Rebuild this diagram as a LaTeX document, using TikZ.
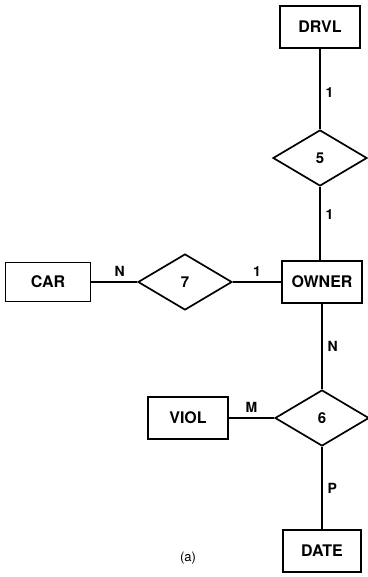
\documentclass[tikz,border=0pt]{standalone}
\usepackage{fontspec}
\setmainfont{TeX Gyre Heros}
\usetikzlibrary{shapes.geometric}

\tikzset{%
  entity/.style={
    rectangle,
    draw,
    line width=1.7pt,
    minimum width=80pt,
    minimum height=42pt,
    font=\fontsize{16}{18}\selectfont\bfseries
  },
  relation/.style={
    diamond,
    draw,
    line width=1.7pt,
    aspect=1.7,
    minimum width=94pt,
    minimum height=56pt,
    inner sep=0pt,
    font=\fontsize{15}{17}\selectfont\bfseries
  },
  card/.style={
    font=\fontsize{14}{16}\selectfont\bfseries,
    inner sep=5pt
  },
  link/.style={
    line width=1.2pt
  },
}

\begin{document}
\begin{tikzpicture}[x=1pt,y=-1pt]
  \useasboundingbox (0,0) rectangle (367,577);
  \node [entity] (DRVL) at (320,27) {DRVL};
  \node [relation] (R5) at (320,158) {5};
  \node [entity] (OWNER) at (322,282) {OWNER};
  \node [entity, minimum width=85pt, minimum height=39pt] (CAR) at (48,282) {CAR};
  \node [relation] (R7) at (185,282) {7};
  \node [relation] (R6) at (322,418) {6};
  \node [entity] (VIOL) at (188,418) {VIOL};
  \node [entity, minimum width=78pt] (DATE) at (322,551) {DATE};
  \node [font=\fontsize{13}{15}\selectfont] (CAPTION) at (188,558) {(a)};
\draw [link] (DRVL) -- node[card, right, pos=0.55] {1} (R5);
\draw [link] (R5.south) -- node[card, right, pos=0.38] {1} (OWNER.north -| R5.south);
\draw [link] (CAR) -- node[card, above, pos=0.62] {N} (R7);
\draw [link] (R7) -- node[card, above] {1} (OWNER);
\draw [link] (OWNER) -- node[card, right] {N} (R6);
\draw [link] (VIOL) -- node[card, above] {M} (R6);
\draw [link] (R6) -- node[card, right] {P} (DATE);
\end{tikzpicture}
\end{document}
